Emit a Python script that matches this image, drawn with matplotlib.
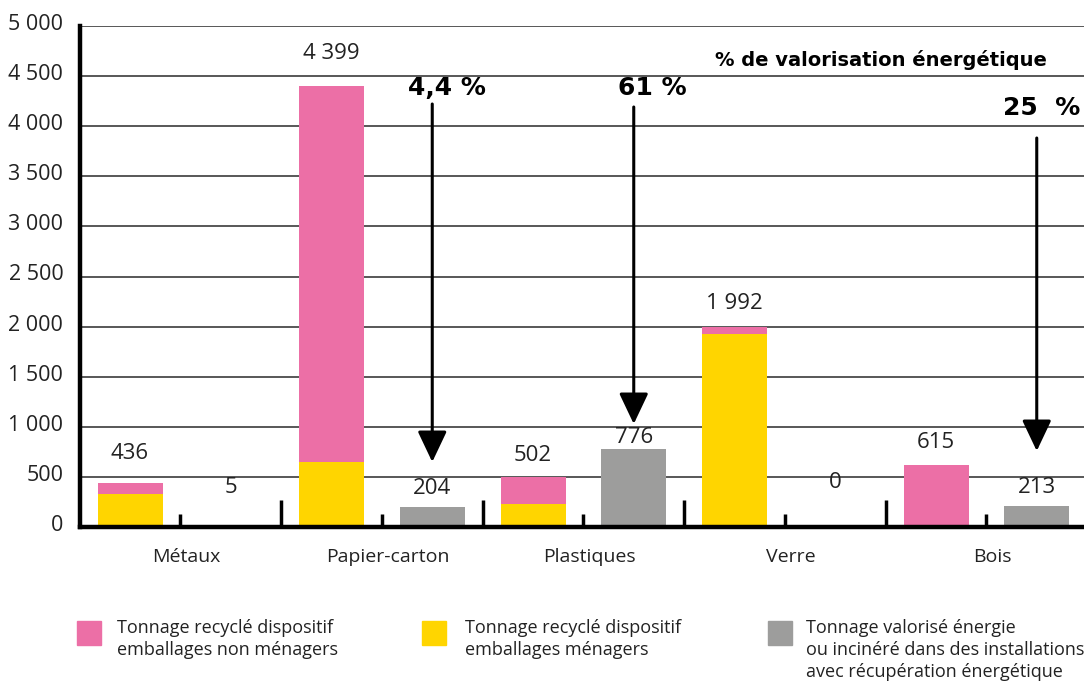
import matplotlib
matplotlib.use("Agg")
import matplotlib.pyplot as plt
import matplotlib.transforms as mtransforms
import numpy as np

# ---- data ----
categories = ["Métaux", "Papier-carton", "Plastiques", "Verre", "Bois"]
menagers = [325, 650, 229, 1925, 0]          # yellow
non_menagers = [111, 3749, 273, 67, 615]     # pink
energie = [5, 204, 776, 0, 213]              # gray
total_labels = ["436", "4 399", "502", "1 992", "615"]
energie_labels = ["5", "204", "776", "0", "213"]
pct_labels = {1: "4,4 %", 2: "61 %", 4: "25  %"}
yticks = [0, 500, 1000, 1500, 2000, 2500, 3000, 3500, 4000, 4500, 5000]
ytick_labels = ["0", "500", "1 000", "1 500", "2 000", "2 500", "3 000",
                "3 500", "4 000", "4 500", "5 000"]
legend_labels = ["Tonnage recyclé dispositif\nemballages non ménagers",
                 "Tonnage recyclé dispositif\nemballages ménagers",
                 "Tonnage valorisé énergie\nou incinéré dans des installations\navec récupération énergétique"]

PINK = "#EC6FA6"
YELLOW = "#FFD500"
GRAY = "#9D9D9C"

plt.rcParams['font.family'] = ['Open Sans', 'DejaVu Sans']

W, H = 1084, 689
fig = plt.figure(figsize=(W / 100, H / 100), dpi=100)
left_px, right_px, top_px, bot_px = 80, 1100, 26, 527
ax = fig.add_axes([left_px / W, 1 - bot_px / H, (right_px - left_px) / W, (bot_px - top_px) / H])

unit = 100.75
x0_px = 130
ax.set_xlim((left_px - x0_px) / unit, (right_px - x0_px) / unit)
ax.set_ylim(0, 5000)
px_per_val = (bot_px - top_px) / 5000

n = len(categories)
xc = np.arange(n) * 2.0
xg = xc + 1.0
bw = 65 / unit

ax.bar(xc, menagers, width=bw, color=YELLOW, zorder=3)
ax.bar(xc, non_menagers, width=bw, bottom=menagers, color=PINK, zorder=3)
ax.bar(xg, energie, width=bw, color=GRAY, zorder=3)

# grid
for v in yticks[1:]:
    ax.axhline(v, color="#4a4a4a", lw=1.3, zorder=1)

ax.set_yticks(yticks)
ax.set_yticklabels(ytick_labels, fontsize=15.5, color="#222222")
ax.tick_params(axis="y", length=0, pad=12)
shift = mtransforms.ScaledTranslation(0, 4 / 100, fig.dpi_scale_trans)
for lab in ax.get_yticklabels():
    lab.set_transform(lab.get_transform() + shift)
ax.set_xticks([])
for s in ["top", "right"]:
    ax.spines[s].set_visible(False)
ax.spines["left"].set_linewidth(3.2)
ax.spines["bottom"].set_linewidth(3.2)
ax.spines["left"].set_zorder(5)
ax.spines["bottom"].set_zorder(5)

# small separator ticks
ax.vlines(xc + 0.5, 0, 130, color="black", lw=2.5, zorder=4)
ax.vlines(xc[:-1] + 1.5, 0, 270, color="black", lw=2.5, zorder=4)

# value labels
tot = [m + p for m, p in zip(menagers, non_menagers)]
c_off = [30, 33, 21, 24, 23]
g_off = [39, 18, 12, 44, 18]
for i in range(n):
    ax.annotate(total_labels[i], (xc[i], tot[i]), xytext=(0, c_off[i] * 0.72),
                textcoords="offset points", ha="center", va="center", fontsize=16, color="#222222")
    ax.annotate(energie_labels[i], (xg[i], energie[i]), xytext=(0, g_off[i] * 0.72),
                textcoords="offset points", ha="center", va="center", fontsize=16, color="#222222")

# category labels
for i, c in enumerate(categories):
    ax.annotate(c, (xc[i] + 0.5, 0), xytext=(6 * 0.72, -30 * 0.72), textcoords="offset points",
                ha="center", va="center", fontsize=14, color="#222222", annotation_clip=False)

# arrows and percentages
arrow_start_px = {1: 104, 2: 107, 4: 138}
tip_px = {1: 462, 2: 424, 4: 451}
text_pos = {1: (447, 88), 2: (652, 88), 4: (1042, 108)}
for i, lab in pct_labels.items():
    x = xg[i]
    tip_val = (bot_px - tip_px[i]) / px_per_val
    start_val = (bot_px - arrow_start_px[i]) / px_per_val
    ax.annotate("", xy=(x, tip_val), xytext=(x, start_val),
                arrowprops=dict(arrowstyle="-|>,head_width=0.45,head_length=0.95",
                                mutation_scale=20, color="black", lw=2.2,
                                shrinkA=0, shrinkB=0), zorder=6)
    tx, ty = text_pos[i]
    fig.text(tx / W, 1 - ty / H, lab, ha="center", va="center", fontsize=18,
             fontweight="bold", family="DejaVu Sans", color="black")

fig.text(881 / W, 1 - 60 / H, "% de valorisation énergétique", ha="center", va="center",
         fontsize=14, fontweight="bold", family="DejaVu Sans", color="black")

# legend
leg_items = [(77, PINK, 117), (422, YELLOW, 465), (768, GRAY, 806)]
for (sx, col, tx), lab in zip(leg_items, legend_labels):
    fig.patches.append(plt.Rectangle((sx / W, 1 - 645 / H), 24 / W, 24 / H,
                                     transform=fig.transFigure, color=col, figure=fig))
    fig.text(tx / W, 1 - 619 / H, lab, ha="left", va="top", fontsize=13,
             color="#222222", linespacing=1.3)

fig.savefig("out.png", dpi=100)
